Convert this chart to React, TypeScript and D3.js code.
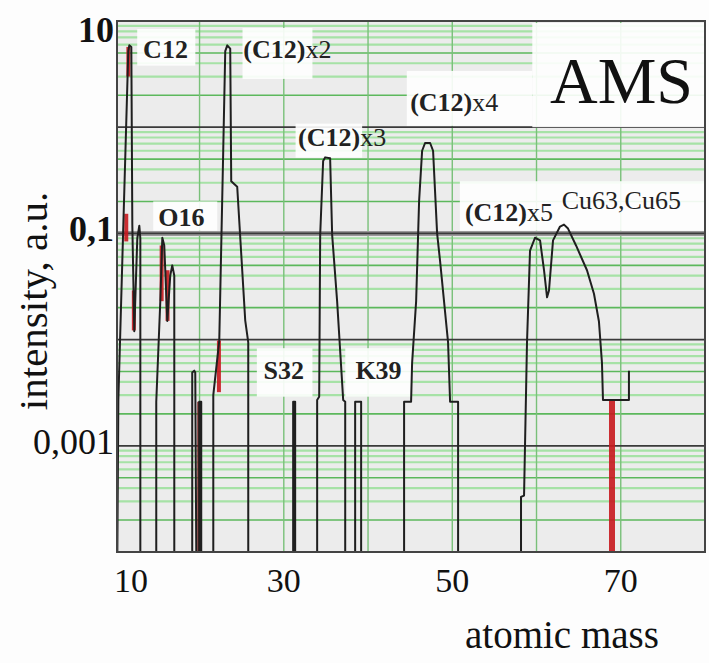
import * as d3 from "d3";

// spectrum trace (black line), mass vs intensity
const traceMass = [
  10.24, 10.36, 11.54, 11.66, 11.9, 12.02, 12.25, 12.61, 12.85, 12.97, 12.97,
  14.86, 14.86, 15.34, 15.58, 15.81, 16.17, 16.52, 16.76, 17.0, 17.0,
  19.13, 19.13, 19.37, 19.49, 19.61, 19.96, 19.96, 20.2, 20.2,
  21.63, 21.63, 22.34, 22.81, 23.05, 23.29, 23.64, 23.76, 24.47, 25.42, 25.78, 25.78,
  31.11, 31.11, 31.35, 31.35,
  33.96, 33.96, 34.2, 34.32, 34.67, 34.91, 35.5, 35.74, 36.33, 37.05, 37.29, 37.29,
  38.47, 38.47, 39.18, 39.18,
  44.28, 44.28, 45.11, 45.23, 45.71, 46.06, 46.42, 46.77, 47.37, 47.72, 48.2, 48.55, 49.5, 49.74, 50.69, 50.69,
  58.16, 58.16, 58.52, 58.87, 59.23, 59.82, 60.42, 60.89, 61.25, 61.48, 61.96, 62.79, 63.26, 63.74,
  64.69, 65.99, 66.82, 67.41, 67.77, 67.89, 70.97, 70.97,
];
const traceIntensity = [
  0.0001, 0.0027, 5.2, 5.9, 5.7, 0.12, 0.012, 0.09, 0.118, 0.09, 0.0001,
  0.0001, 0.0026, 0.023, 0.091, 0.077, 0.015, 0.04, 0.05, 0.04, 0.0001,
  0.0001, 0.0049, 0.0051, 0.0049, 0.0001, 0.0001, 0.0026, 0.0026, 0.0001,
  0.0001, 0.003, 0.0098, 0.6, 5.2, 5.9, 5.5, 0.31, 0.275, 0.0152, 0.0094, 0.0001,
  0.0001, 0.0026, 0.0026, 0.0001,
  0.0001, 0.0027, 0.0029, 0.097, 0.48, 0.52, 0.51, 0.097, 0.023, 0.0027, 0.0026, 0.0001,
  0.0001, 0.0026, 0.0026, 0.0001,
  0.0001, 0.0026, 0.0026, 0.006, 0.023, 0.2, 0.6, 0.71, 0.71, 0.6, 0.1, 0.055, 0.0094, 0.0026, 0.0026, 0.0001,
  0.0001, 0.00033, 0.00034, 0.0094, 0.069, 0.091, 0.086, 0.045, 0.025, 0.029, 0.086, 0.116, 0.121, 0.111,
  0.077, 0.045, 0.027, 0.0148, 0.006, 0.0027, 0.0027, 0.0051,
];

// red series, only the visible bits
const redMass = [11.55, 11.3, 12.2, 15.5, 16.2, 22.3, 19.96, 68.96];
const redTop = [5.7, 0.153, 0.029, 0.077, 0.045, 0.0098, 0.0026, 0.0027];
const redBottom = [3.0, 0.084, 0.0122, 0.023, 0.015, 0.0032, 0.0001, 0.0001];

const yTicks = [10, 0.1, 0.001];
const yTickLabels = ["10", "0,1", "0,001"];
const xTicks = [10, 30, 50, 70];
const decades = [1e-4, 1e-3, 1e-2, 1e-1, 1, 10];
const massGrid = [20, 30, 40, 50, 60, 70];

const peakNames = ["C12", "(C12)", "(C12)", "(C12)", "(C12)", "Cu63,Cu65", "O16", "S32", "K39"];
const peakSuffix = ["", "x2", "x3", "x4", "x5", "", "", "", ""];
const labelMass = [13.3, 25.2, 31.7, 45.0, 51.5, 63.0, 15.1, 27.6, 38.5];
const labelIntensity = [4.49, 4.49, 0.668, 1.43, 0.132, 0.171, 0.118, 0.0043, 0.0043];

// white patches behind the labels (mass from/to, intensity top/bottom)
const panelMass0 = [12.6, 25.1, 31.4, 44.6, 59.5, 14.5, 26.8, 37.3, 50.9];
const panelMass1 = [19.5, 33.4, 39.3, 59.5, 80, 22.1, 33.4, 45.2, 80];
const panelTop = [8.4, 8.6, 1.08, 3.39, 9.58, 0.2, 0.0083, 0.0083, 0.31];
const panelBottom = [3.8, 2.85, 0.517, 1.03, 1.0, 0.106, 0.0029, 0.0029, 0.106];

const W = 709;
const H = 663;
const left = 117, right = 705, top = 21, bottom = 552;
const serif = "'Liberation Serif', 'DejaVu Serif', serif";

export default function App() {
  const x = d3.scaleLinear().domain([10.2, 80]).range([left, right]);
  const y = d3.scaleLog().domain([1e-4, 10]).range([bottom, top]);

  const line = d3
    .line<number>()
    .x((d, i) => x(traceMass[i]))
    .y((d) => y(Math.max(d, 1e-4)));

  // minor log gridlines 2..9 in every decade
  const minor: number[] = [];
  decades.slice(0, -1).forEach((d) => {
    for (let k = 2; k <= 9; k++) minor.push(k * d);
  });

  return (
    <div style={{ position: "absolute", left: 0, top: 0 }}>
      <svg width={W} height={H} style={{ display: "block", background: "#fdfdfd" }}>
        <rect x={left} y={top} width={right - left} height={bottom - top} fill="#ececec" />

        {minor.map((v, i) => {
          const k = Math.round(v / Math.pow(10, Math.floor(Math.log10(v) + 1e-9)));
          return (
            <line
              key={"mn" + i}
              x1={left}
              x2={right}
              y1={y(v)}
              y2={y(v)}
              stroke={k === 2 || k === 5 ? "#5cb85c" : "#a6e2a6"}
              strokeWidth={k === 2 || k === 5 ? 1.6 : 2.2}
            />
          );
        })}

        {massGrid.map((m) => (
          <line key={"vg" + m} x1={x(m)} x2={x(m)} y1={top} y2={bottom} stroke="#79c079" strokeWidth={1.4} />
        ))}

        {/* thick grey band on 0,1 */}
        <line x1={left} x2={right} y1={y(0.1)} y2={y(0.1)} stroke="#9a9a9a" strokeWidth={5} />
        {decades.map((d) => (
          <line key={"mj" + d} x1={left} x2={right} y1={y(d)} y2={y(d)} stroke="#3a3a3a" strokeWidth={1.8} />
        ))}

        {panelMass0.map((m, i) => (
          <rect
            key={"pn" + i}
            x={x(m)}
            y={y(panelTop[i])}
            width={Math.min(x(panelMass1[i]), right) - x(m)}
            height={y(panelBottom[i]) - y(panelTop[i])}
            fill="#ffffff"
            opacity={0.9}
          />
        ))}

        {redMass.map((m, i) => (
          <line
            key={"rd" + i}
            x1={x(m)}
            x2={x(m)}
            y1={y(redTop[i])}
            y2={y(redBottom[i])}
            stroke={i === 6 ? "#7a1a1a" : "#c8191e"}
            strokeWidth={i === redMass.length - 1 ? 6 : 4}
            opacity={0.9}
          />
        ))}

        <path d={line(traceIntensity) || ""} fill="none" stroke="#1f1f1f" strokeWidth={2} strokeLinejoin="round" />

        <rect x={left} y={top} width={right - left} height={bottom - top} fill="none" stroke="#444" strokeWidth={2} />

        {peakNames.map((name, i) => (
          <text
            key={"lb" + i}
            x={x(labelMass[i])}
            y={y(labelIntensity[i])}
            fontFamily={serif}
            fontSize={26}
            fontWeight={name.startsWith("Cu") ? "normal" : "bold"}
            fill="#222"
          >
            {name}
            {peakSuffix[i] && <tspan fontWeight="normal">{peakSuffix[i]}</tspan>}
          </text>
        ))}

        <text x={x(61.6)} y={y(1.69)} fontFamily={serif} fontSize={66} fill="#111">
          AMS
        </text>

        {yTicks.map((v, i) => (
          <text
            key={"yt" + i}
            x={left - 3}
            y={y(v) + (i === 0 ? 21 : 8)}
            textAnchor="end"
            fontFamily={serif}
            fontSize={36}
            fontWeight={i < 2 ? "bold" : "normal"}
            fill="#111"
          >
            {yTickLabels[i]}
          </text>
        ))}

        {xTicks.map((v, i) => (
          <text
            key={"xt" + i}
            x={i === 0 ? left - 3 : x(v)}
            y={bottom + 40}
            textAnchor={i === 0 ? "start" : "middle"}
            fontFamily={serif}
            fontSize={34}
            fill="#111"
          >
            {v}
          </text>
        ))}

        <text
          transform={`translate(47, 301) rotate(-90)`}
          textAnchor="middle"
          fontFamily={serif}
          fontSize={41}
          fill="#111"
        >
          intensity, a.u.
        </text>
        <text x={465} y={648} fontFamily={serif} fontSize={39} fill="#111">
          atomic mass
        </text>
      </svg>
    </div>
  );
}
